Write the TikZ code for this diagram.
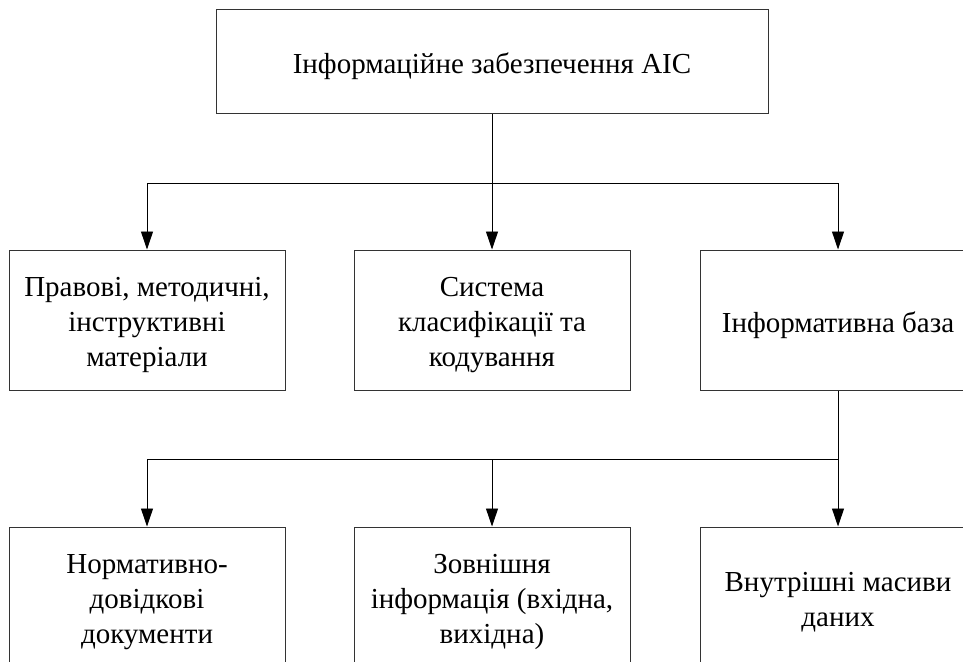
\documentclass[tikz,border=0pt]{standalone}
\usepackage{fontspec}
\setmainfont{Liberation Serif}
\usetikzlibrary{arrows.meta}
\begin{document}
\begin{tikzpicture}[x=1pt,y=-1pt,
  box/.style={draw=black!80, line width=1pt, minimum width=276pt, minimum height=140pt,
    inner sep=0pt},
  topbox/.style={box, minimum width=552pt, minimum height=103pt},
  lbl/.style={inner sep=0pt, align=center, font=\fontsize{29}{35}\selectfont, yshift=-5pt},
  arr/.style={draw=black, line width=0.9pt, -{Triangle[length=18pt,width=12pt]}}]
\useasboundingbox (0,0) rectangle (963,661);
\clip (0,0) rectangle (963,661);
\node[topbox, label={[lbl]center:Інформаційне забезпечення АІС}] (top) at (492,61.5) {};
\node[box, label={[lbl]center:{Правові, методичні,\\інструктивні\\матеріали}}] (b1) at (147,320) {};
\node[box, label={[lbl]center:{Система\\класифікації та\\кодування}}] (b2) at (492,320) {};
\node[box, label={[lbl]center:{Інформативна база}}] (b3) at (838,320) {};
\node[box, label={[lbl]center:{Нормативно-\\довідкові\\документи}}] (c1) at (147,597) {};
\node[box, label={[lbl]center:{Зовнішня\\інформація (вхідна,\\вихідна)}}] (c2) at (492,597) {};
\node[box, label={[lbl]center:{Внутрішні масиви\\даних}}] (c3) at (838,597) {};
\coordinate (j1) at (492,183);
\coordinate (j2) at (838,459);
\draw[arr] (top.south) -- (b2.north);
\draw[arr] (j1) -| (b1.north);
\draw[arr] (j1) -| (b3.north);
\draw[arr] (b3.south) -- (c3.north);
\draw[arr] (j2) -| (c1.north);
\draw[arr] (c2.north |- j2) -- (c2.north);
\end{tikzpicture}
\end{document}
